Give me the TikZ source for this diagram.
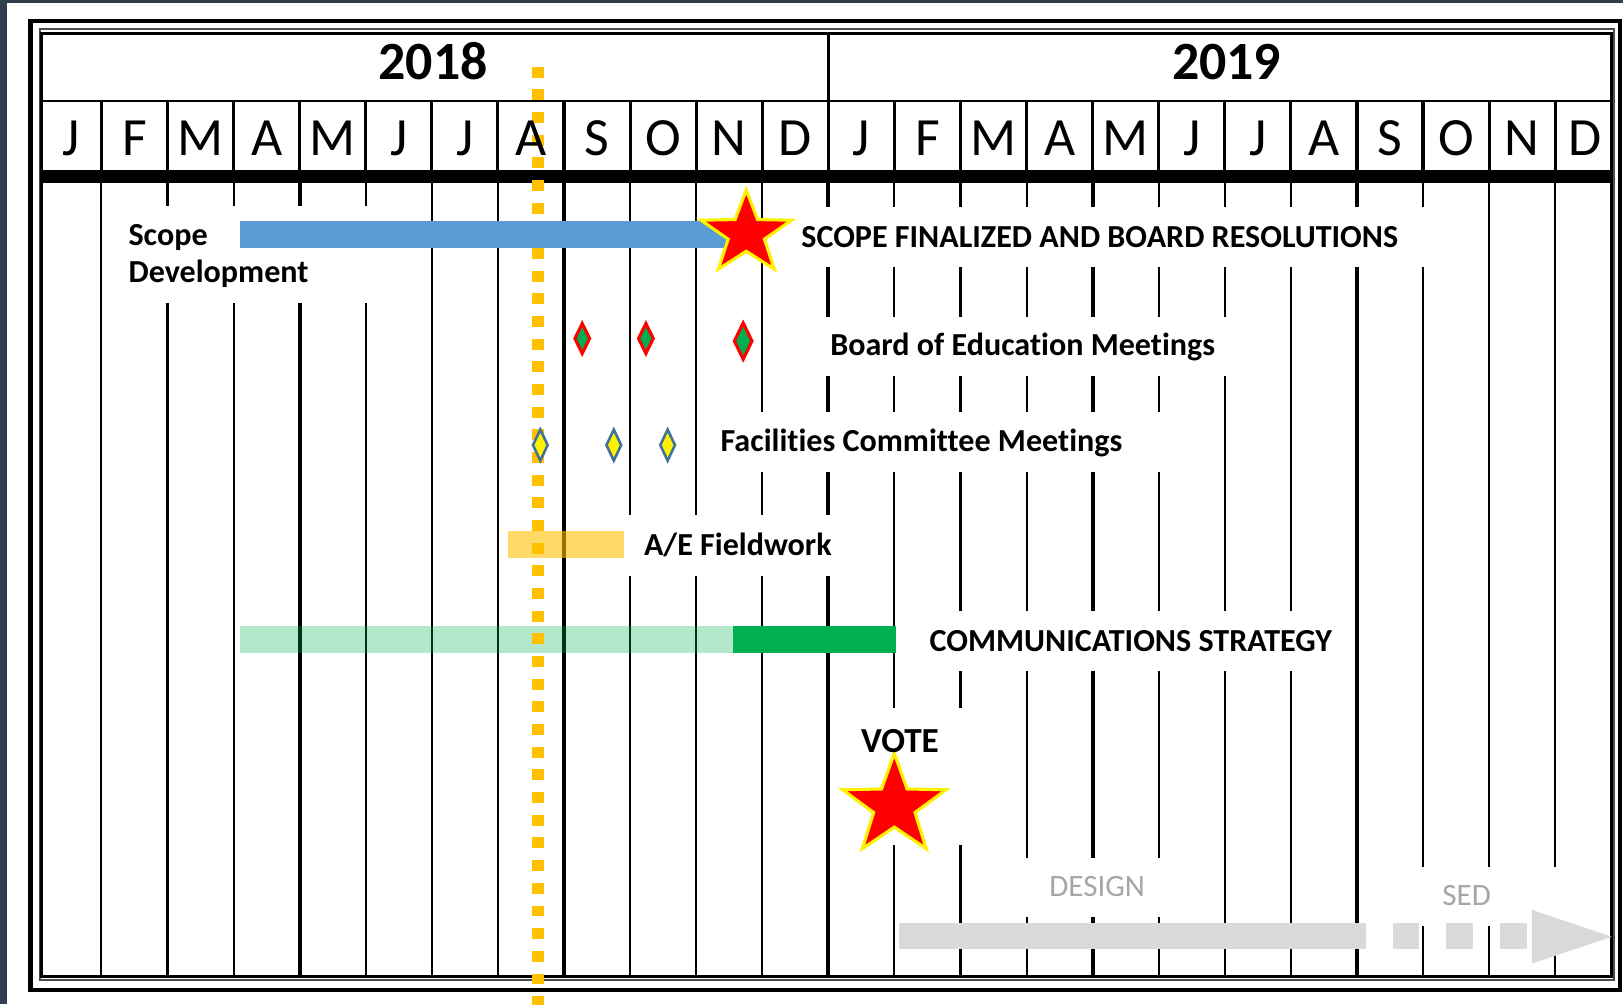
\documentclass[tikz,border=0pt]{standalone}
\usepackage{fontspec}
\setmainfont{Carlito}[Ligatures=NoCommon]
\newcommand\lblfs[1]{\fontsize{#1}{#1}\selectfont}
\newcommand\mydiapath[4]{({#1},{#2-#4/2}) -- ({#1+#3/2},{#2}) -- ({#1},{#2+#4/2}) -- ({#1-#3/2},{#2}) -- cycle}
\newcommand\mystarpath[4]{({#1},{#2-#4*#3}) \foreach \a/\f in {126/0.4,162/1,198/0.4,234/1,270/0.4,306/1,342/0.4,18/1,54/0.4}{ -- ({#1+\f*#3*cos(\a)},{#2-#4*\f*#3*sin(\a)}) } -- cycle}
\begin{document}
\begin{tikzpicture}[x=1pt,y=-1pt]
\definecolor{bgdark}{HTML}{313C4C}
\definecolor{scopeblue}{HTML}{5B9BD5}
\definecolor{dotorange}{HTML}{FFC000}
\definecolor{commgreen}{HTML}{00B050}
\definecolor{arrowgray}{HTML}{D9D9D9}
\definecolor{labelgray}{HTML}{A6A6A6}
\definecolor{faciblue}{HTML}{41719C}
\tikzset{
  thinline/.style={line width=2pt},
  thickline/.style={line width=4pt},
  hdrline/.style={line width=3pt},
  maskbox/.style={fill=white},
  lbl/.style={anchor=base west, inner sep=0pt, font=\lblfs{31}\bfseries},
  yearlbl/.style={anchor=base, inner sep=0pt, font=\lblfs{52}\bfseries},
  monthlbl/.style={anchor=base, inner sep=0pt, font=\lblfs{52}},
  graylbl/.style={anchor=base, inner sep=0pt, font=\lblfs{30}, text=labelgray},
  boardd/.style={draw=red, line width=3pt, fill=commgreen},
  facid/.style={draw=faciblue, line width=2.5pt, fill=yellow},
  starsty/.style={draw=yellow, line width=3pt, fill=red, line join=miter},
}
\useasboundingbox (0,0) rectangle (1568,970);
% background
\fill[bgdark] (0,0) rectangle (1568,970);
\fill[white] (6.5,2.8) rectangle (1568,970);
% frames
\draw[line width=4pt] (29.5,20) rectangle (1565,956.5);
\draw[line width=1.5pt, black!70] (38.5,28) rectangle (1559.5,947);
\draw[line width=3pt] (40,32.5) rectangle (1557,943);
% header
\draw[line width=2.5pt] (40,97.5) -- (1557,97.5);
\fill (40,164) rectangle (1557,176.5);
\draw[hdrline] (800,32.5) -- (800,97.5);
\foreach \k in {0,...,22} \draw[hdrline] ({98+63.84*\k},97.5) -- ({98+63.84*\k},164);
% body grid lines
\foreach \k in {0,1,2,4,5,6,8,9,10,12,13,14,16,17,18,20,21,22}
  \draw[thinline] ({98+63.84*\k},176.5) -- ({98+63.84*\k},943);
\foreach \k in {3,7,11,15,19}
  \draw[thickline] ({98+63.84*\k},176.5) -- ({98+63.84*\k},943);
% label backgrounds
\fill[maskbox] (108,199) rectangle (405,293);
\fill[maskbox] (748,200) rectangle (1405,258);
\fill[maskbox] (745,306) rectangle (1244,363);
\fill[maskbox] (690,398) rectangle (1150,456);
\fill[maskbox] (600,498) rectangle (835,556);
\fill[maskbox] (870,590) rectangle (1308,648);
\fill[maskbox] (812,684) rectangle (960,816);
\fill[maskbox] (960,829) rectangle (1165,886);
\fill[maskbox] (1322,838) rectangle (1530,895);
% bars under the dotted line
\fill[dotorange, fill opacity=0.6] (491,513) rectangle (603,539);
\fill[commgreen, fill opacity=0.3] (232,605) rectangle (708,631);
\fill[commgreen] (708,605) rectangle (866,631);
% today line
\draw[dotorange, line width=11.2pt, dash pattern=on 10.6pt off 11.3pt] (519.5,64.5) -- (519.5,975);
% scope bar
\fill[scopeblue] (232,213.5) rectangle (707,239.5);
% design / SED arrow
\fill[arrowgray] (869,892) rectangle (1320,917);
\fill[arrowgray] (1346,892) rectangle (1371,917);
\fill[arrowgray] (1397,892) rectangle (1423,917);
\fill[arrowgray] (1449,892) rectangle (1475,917);
\fill[arrowgray] (1480,879) -- (1557,905) -- (1480,931) -- cycle;
% diamonds
\draw[boardd] \mydiapath{562.5}{327}{14.2}{29};
\draw[boardd] \mydiapath{624}{327}{14.2}{29};
\draw[boardd] \mydiapath{718}{329.5}{17}{35};
\draw[facid] \mydiapath{522}{430}{14.2}{30};
\draw[facid] \mydiapath{593}{430}{14.2}{30};
\draw[facid] \mydiapath{645}{430}{14.2}{30};
% stars
\draw[starsty] \mystarpath{721}{225.8}{46}{0.92};
\draw[starsty] \mystarpath{864}{778.7}{52.5}{0.97};
% header text
\node[yearlbl] (y2018) at (418.5,77) {2018};
\node[yearlbl] (y2019) at (1185,77) {2019};
\foreach \m [count=\i from 0] in {J,F,M,A,M,J,J,A,S,O,N,D,J,F,M,A,M,J,J,A,S,O,N,D}{
  \pgfmathsetmacro\mx{\i==0 ? 69 : (\i==23 ? 1531 : 98+63.84*(\i-0.5))}
  \node[monthlbl] (m\i) at (\mx,150) {\m};
}
% labels
\node[lbl] (scopeA) at (124,237) {Scope};
\node[lbl] (scopeB) at (124,273) {Development};
\node[lbl] (sfin) at (774,239) {SCOPE FINALIZED AND BOARD RESOLUTIONS};
\node[lbl] (boe) at (802,343) {Board of Education Meetings};
\node[lbl] (fcm) at (696,436) {Facilities Committee Meetings};
\node[lbl] (aef) at (622,537) {A/E Fieldwork};
\node[lbl] (comm) at (898,629.6) {COMMUNICATIONS STRATEGY};
\node[lbl, anchor=base, font=\lblfs{34}\bfseries] (vote) at (869.5,727) {VOTE};
\node[graylbl] (design) at (1060,866) {DESIGN};
\node[graylbl] (sed) at (1417,875) {SED};
\end{tikzpicture}
\end{document}
